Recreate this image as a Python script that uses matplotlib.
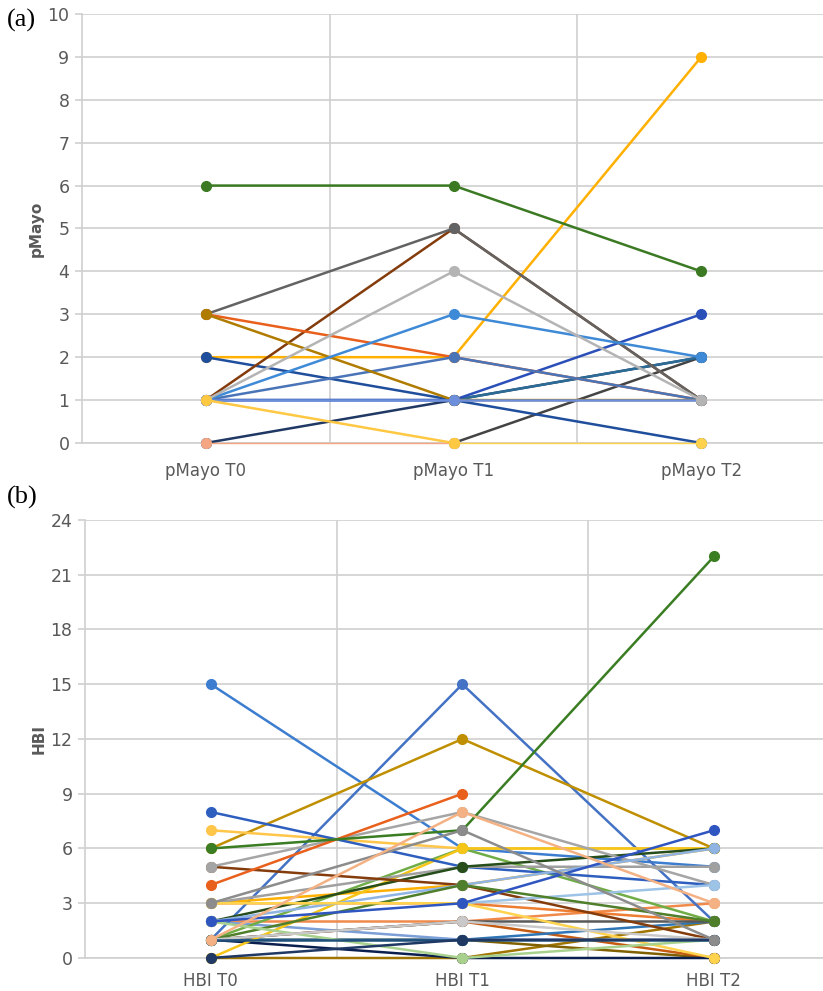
import numpy as np
import matplotlib
matplotlib.use("Agg")
import matplotlib.pyplot as plt

nan = np.nan

# ---- panel (a): pMayo per patient (draw order = list order) ----
pmayo_cats = ["pMayo T0", "pMayo T1", "pMayo T2"]
pmayo_t0 = [2, nan, 0, 1, 1, 2, 1, 3, 3, 1, 3, 1, 1, 1, 6, 0, nan, 1]
pmayo_t1 = [2, 0, 1, 1, 1, 1, 5, 5, 2, 2, 1, 3, 1, 4, 6, 0, 0, 0]
pmayo_t2 = [9, 2, 2, 2, 3, 0, 1, 1, 1, 1, 1, 2, 1, 1, 4, nan, 0, nan]
pmayo_colors = ["#ffb000", "#444444", "#1f3864", "#2b6b95", "#2a4fb8", "#1f4e9c",
                "#843c0c", "#636363", "#e8601c", "#4a74b8", "#b07c00", "#3f8ad6",
                "#6d8fdb", "#b4b4b4", "#3b7a22", "#f4a582", "#ffd24d", "#ffc843"]
pmayo_thin = [15, 16]

# ---- panel (b): HBI per patient (draw order = list order) ----
hbi_cats = ["HBI T0", "HBI T1", "HBI T2"]
hbi_t0 = [0, 1, 1, 1, 2, 3, 1, 2, 15, 1, 1, 6, 1, 7, 3, 0, 8, 3, 2, 5,
          5, nan, 2, 1, 3, 2, 2, 4, 1, 1, 0, 6, 3, 1]
hbi_t1 = [0, 1, 2, 0, 2, 3, 1, 1, 6, 15, 2, 12, 6, 6, 4, 6, 5, 5, 5, 4,
          8, 3, 4, 4, 3, 0, 3, 9, 2, 1, 1, 7, 7, 8]
hbi_t2 = [2, 0, 0, 0, 3, 2, 2, 1, 5, 2, 2, 6, 2, 6, 6, 6, 4, 5, 6, 1,
          4, 4, 6, 2, 0, 1, 7, nan, 1, 1, 1, 22, 1, 3]
hbi_colors = ["#a07400", "#806000", "#c55a11", "#0b1f4f", "#f08a4b", "#ed7d31",
              "#2e75b6", "#7b9fd6", "#3c7dd0", "#4472c4", "#595959", "#bf8f00",
              "#70ad47", "#ffc64a", "#ffb000", "#f5c518", "#2e5fbf", "#a0a0a0",
              "#264d1a", "#843c0c", "#a5a5a5", "#9dc3e6", "#8fb4e3", "#4f7f2a",
              "#ffd34d", "#a9d18e", "#2f55c0", "#e8601c", "#c9c9c9", "#1f4e79",
              "#203864", "#3a7d22", "#8c8c8c", "#f4b183"]

GRID = "#d0d0d0"
TXT = "#595959"
plt.rcParams["font.family"] = ["Liberation Sans Narrow", "DejaVu Sans"]

fig = plt.figure(figsize=(8.23, 9.91), dpi=100)
ax_a = fig.add_axes([0.0996, 0.553, 0.903, 0.4329])
ax_b = fig.add_axes([0.1033, 0.0333, 0.917, 0.442])


def draw_panel(ax, cats, t0, t1, t2, colors, ymax, ystep, ylabel, xpad, thin=()):
    x = np.arange(len(cats))
    for i, c in enumerate(colors):
        y = [t0[i], t1[i], t2[i]]
        lw = 1.0 if i in thin else 1.8
        ax.plot(x, y, color=c, lw=lw, marker="o", ms=7, mec=c, mfc=c,
                solid_capstyle="round", clip_on=False, zorder=3)
    ax.set_xlim(-0.5, 2.5)
    ax.set_ylim(0, ymax)
    ax.set_yticks(np.arange(0, ymax + 0.1, ystep))
    ax.set_xticks(x)
    ax.set_xticklabels(cats, fontsize=12, color=TXT)
    ax.set_xticks([0.5, 1.5], minor=True)
    ax.grid(True, axis="y", color=GRID, lw=1.2)
    ax.grid(True, axis="x", which="minor", color=GRID, lw=1.2)
    ax.tick_params(axis="x", which="both", length=0, pad=xpad)
    ax.tick_params(axis="y", length=5, color=GRID, width=1.2, labelsize=12.5,
                   labelcolor=TXT, pad=4)
    for s in ("top", "right"):
        ax.spines[s].set_visible(False)
    for s in ("left", "bottom"):
        ax.spines[s].set_color(GRID)
        ax.spines[s].set_linewidth(1.2)
    ax.set_ylabel(ylabel, fontsize=11, fontweight="bold", color=TXT,
                  family="DejaVu Sans", labelpad=3)


draw_panel(ax_a, pmayo_cats, pmayo_t0, pmayo_t1, pmayo_t2, pmayo_colors,
           10, 1, "pMayo", 14, thin=pmayo_thin)
draw_panel(ax_b, hbi_cats, hbi_t0, hbi_t1, hbi_t2, hbi_colors, 24, 3, "HBI", 10)

fig.text(0.008, 0.979, "(a)", fontsize=19, family="Liberation Serif", va="center")
fig.text(0.008, 0.498, "(b)", fontsize=19, family="Liberation Serif", va="center")

fig.savefig("out.png", dpi=100)
